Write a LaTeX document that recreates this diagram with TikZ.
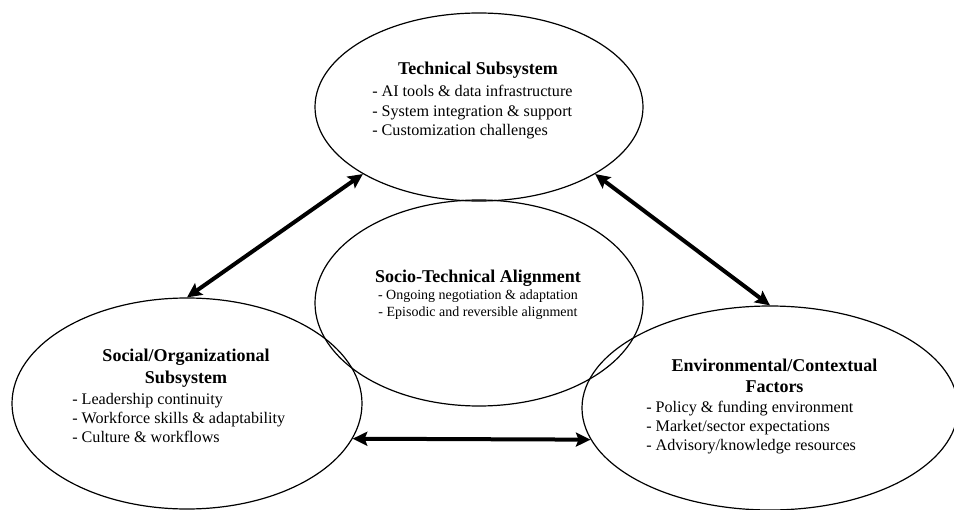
\documentclass[tikz,border=0pt]{standalone}
\usepackage{fontspec}
\setmainfont{Liberation Serif}
\usetikzlibrary{shapes.geometric,arrows.meta}

\begin{document}
\begin{tikzpicture}[x=0.75pt,y=-0.75pt,
  >={Stealth[length=11pt,width=10.5pt,inset=2pt]},
  oval/.style={draw,ellipse,line width=0.9pt,inner sep=0pt},
  head/.style={inner sep=0pt,anchor=base,font=\fontsize{13.5}{16.1}\selectfont\bfseries},
  items/.style={inner sep=0pt,anchor=base west,font=\fontsize{12.1}{14.6}\selectfont},
  subitems/.style={inner sep=0pt,anchor=base,font=\fontsize{10.5}{13.2}\selectfont},
  link/.style={line width=3pt,<->}]
  \clip (0,0) rectangle (954,510);

  % the four fields
  \node[oval,minimum width=246pt,minimum height=141pt] (tech) at (479,107) {};
  \node[oval,minimum width=246pt,minimum height=154.5pt] (stalign) at (479,303) {};
  \node[oval,minimum width=262.5pt,minimum height=158.25pt] (soc) at (187,403.5) {};
  \node[oval,minimum width=282pt,minimum height=153pt] (env) at (770,408) {};

  % texts
  \node[head] (techhead) at (478,75) {Technical Subsystem};
  \node[items] (techlist) at (372,97) {\begin{tabular}[t]{@{}l@{}}
    - AI tools \& data infrastructure\\
    - System integration \& support\\
    - Customization challenges\end{tabular}};

  \node[head] (sthead) at (478,282) {Socio-Technical Alignment};
  \node[subitems] (stlist) at (478,299) {\begin{tabular}[t]{@{}c@{}}
    - Ongoing negotiation \& adaptation\\
    - Episodic and reversible alignment\end{tabular}};

  \node[head] (sochead) at (186,361.7) {\begin{tabular}[t]{@{}c@{}}
    Social/Organizational\\Subsystem\end{tabular}};
  \node[items] (soclist) at (72,404) {\begin{tabular}[t]{@{}l@{}}
    - Leadership continuity\\
    - Workforce skills \& adaptability\\
    - Culture \& workflows\end{tabular}};

  \node[head] (envhead) at (774.5,371) {\begin{tabular}[t]{@{}c@{}}
    Environmental/Contextual\\Factors\end{tabular}};
  \node[items] (envlist) at (646,412) {\begin{tabular}[t]{@{}l@{}}
    - Policy \& funding environment\\
    - Market/sector expectations\\
    - Advisory/knowledge resources\end{tabular}};

  % links
  \draw[link] (soc.north) -- (tech.210);
  \draw[link] (tech.330) -- (env.north);
  \draw[link] (soc.-12) -- (env.190);
\end{tikzpicture}
\end{document}
